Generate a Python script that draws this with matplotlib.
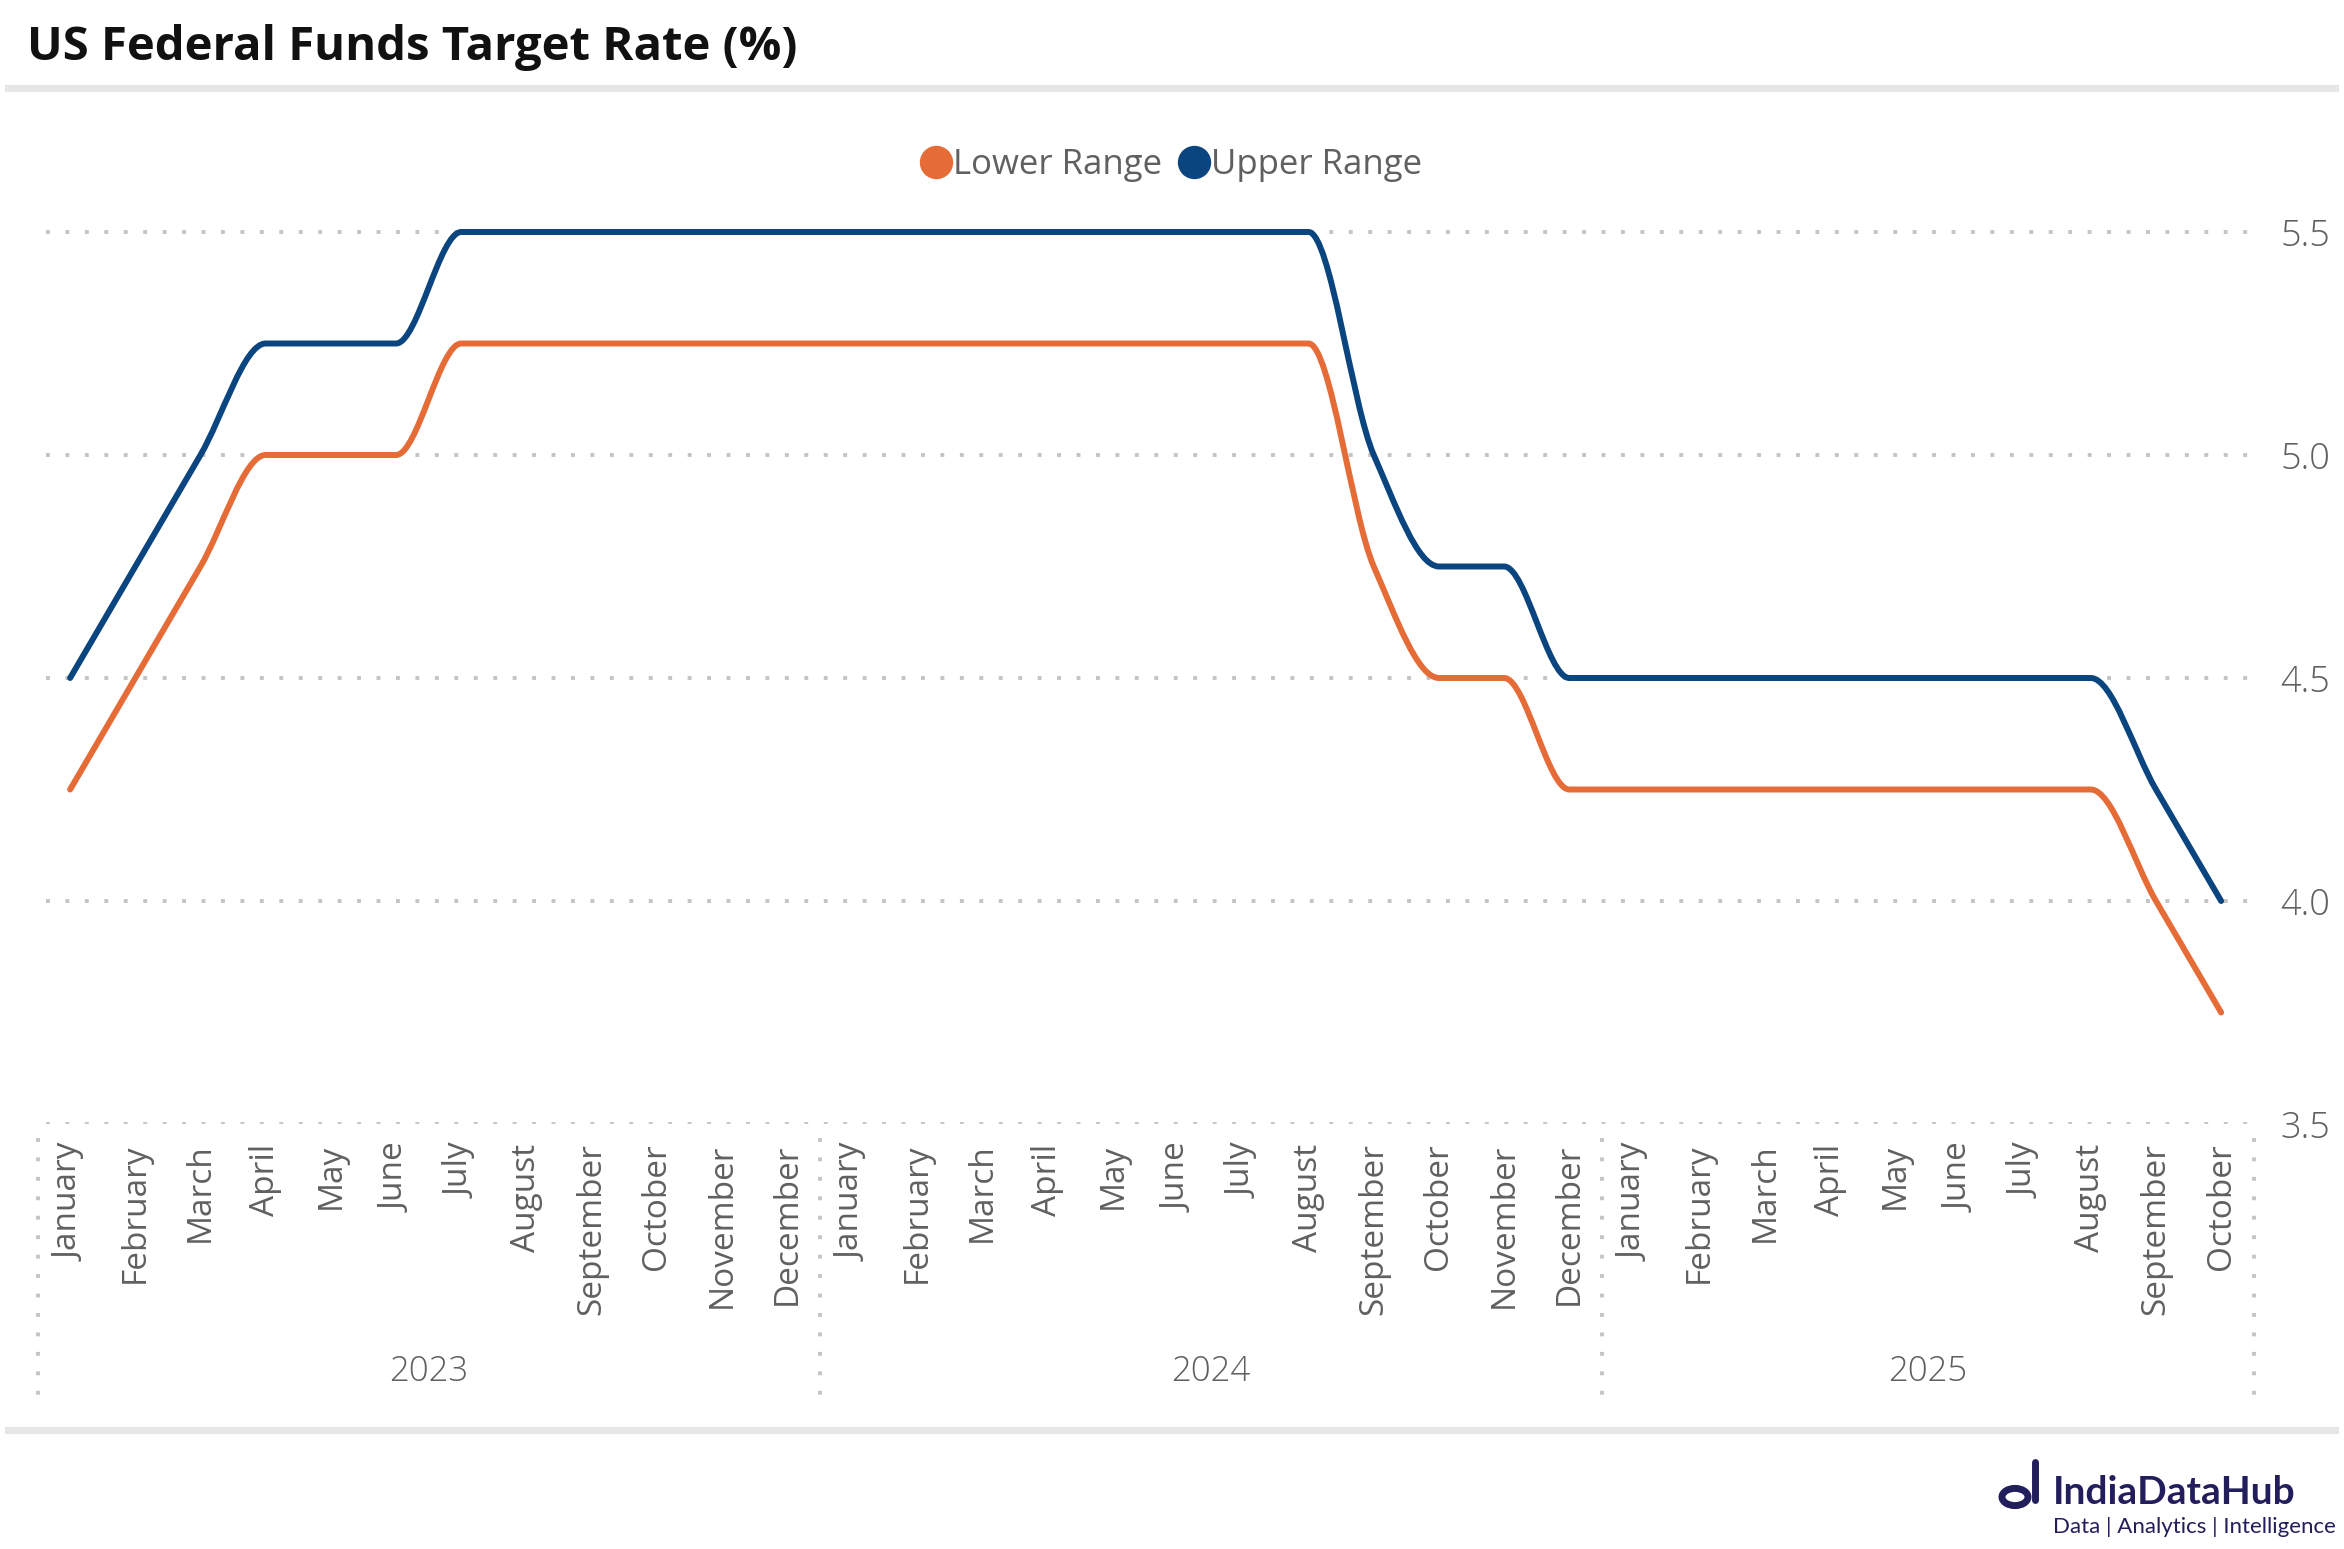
import numpy as np
import matplotlib
matplotlib.use("Agg")
import matplotlib.pyplot as plt
from matplotlib.path import Path
from matplotlib.patches import PathPatch, Circle
from matplotlib.lines import Line2D
import matplotlib.transforms as mtransforms

# Data: monthly fed funds target range, Jan 2023 - Oct 2025
years = ["2023", "2024", "2025"]
months_per_year = [12, 12, 10]
month_names = ["January", "February", "March", "April", "May", "June", "July",
               "August", "September", "October", "November", "December"]
lower_range = [4.25, 4.50, 4.75, 5.00, 5.00, 5.00, 5.25, 5.25, 5.25, 5.25, 5.25, 5.25,
               5.25, 5.25, 5.25, 5.25, 5.25, 5.25, 5.25, 5.25, 4.75, 4.50, 4.50, 4.25,
               4.25, 4.25, 4.25, 4.25, 4.25, 4.25, 4.25, 4.25, 4.00, 3.75]
upper_range = [4.50, 4.75, 5.00, 5.25, 5.25, 5.25, 5.50, 5.50, 5.50, 5.50, 5.50, 5.50,
               5.50, 5.50, 5.50, 5.50, 5.50, 5.50, 5.50, 5.50, 5.00, 4.75, 4.75, 4.50,
               4.50, 4.50, 4.50, 4.50, 4.50, 4.50, 4.50, 4.50, 4.25, 4.00]
y_ticks = [3.5, 4.0, 4.5, 5.0, 5.5]

ORANGE = "#E66C37"
NAVY = "#0B457F"
GRID = "#C4C4C4"
TXT = "#606060"
W, H = 2344, 1549


# Smooth line through the points (monotone cubic, drawn as bezier path)
def smooth_path(y):
    y = np.asarray(y, dtype=float)
    n = len(y)
    d = np.diff(y)
    m = np.zeros(n)
    m[0], m[-1] = d[0], d[-1]
    for k in range(1, n - 1):
        if d[k - 1] * d[k] > 0:
            m[k] = 2.0 / (1.0 / d[k - 1] + 1.0 / d[k])
    verts = [(0, y[0])]
    codes = [Path.MOVETO]
    for k in range(n - 1):
        verts += [(k + 1 / 3, y[k] + m[k] / 3),
                  (k + 2 / 3, y[k + 1] - m[k + 1] / 3),
                  (k + 1, y[k + 1])]
        codes += [Path.CURVE4] * 3
    return Path(verts, codes)


def px(x, y):
    # figure fraction from pixel coords (origin top-left)
    return x / W, 1 - y / H


fig = plt.figure(figsize=(W / 100, H / 100), dpi=100)
ax = fig.add_axes([46 / W, 1 - 1124 / H, (2257 - 46) / W, (1124 - 120.5) / H])

for vals, col in [(lower_range, ORANGE), (upper_range, NAVY)]:
    ax.add_patch(PathPatch(smooth_path(vals), facecolor="none", edgecolor=col,
                           lw=4.3, capstyle="round", joinstyle="round", zorder=3))

ax.set_xlim(-0.37, 33.55)
ax.set_ylim(3.5, 5.75)

# y axis on the right
ax.yaxis.tick_right()
ax.set_yticks(y_ticks)
ax.set_yticklabels([f"{v:.1f}" for v in y_ticks], fontsize=26, color=TXT,
                   family=["Open Sans", "DejaVu Sans"], fontweight="light")
ax.tick_params(axis="y", length=0, pad=17)
ax.yaxis.grid(True, color=GRID, lw=2.8, linestyle=(0, (1, 4)))
ax.set_axisbelow(True)

# month tick labels
labels = []
for n in months_per_year:
    labels += month_names[:n]
ax.set_xticks(range(len(labels)))
ax.set_xticklabels(labels, rotation=90, fontsize=24, color=TXT,
                   family=["Open Sans", "DejaVu Sans"])
ax.tick_params(axis="x", length=0, pad=14)

for s in ax.spines.values():
    s.set_visible(False)

# year groups underneath
trans = mtransforms.blended_transform_factory(ax.transData, ax.transAxes)
ax_h = 1124 - 120.5
start = -0.5
bounds = [start]
for yr, n in zip(years, months_per_year):
    end = start + n
    ax.text((start + end) / 2, -(1372 - 1124) / ax_h, yr, transform=trans,
            ha="center", va="center", fontsize=25, color=TXT,
            family=["Open Sans", "DejaVu Sans"], fontweight="light")
    bounds.append(end)
    start = end
for b in bounds:
    ax.plot([b, b], [-(1138 - 1124) / ax_h, -(1405 - 1124) / ax_h], transform=trans,
            color=GRID, lw=2.8, linestyle=(0, (1, 4)), clip_on=False)

# legend
handles = [Line2D([], [], marker="o", ls="none", color=ORANGE, markersize=23),
           Line2D([], [], marker="o", ls="none", color=NAVY, markersize=23)]
leg = fig.legend(handles, ["Lower Range", "Upper Range"], loc="center",
                 bbox_to_anchor=px(1172, 165), ncol=2, frameon=False,
                 handlelength=0.8, handletextpad=0.1, columnspacing=0.5,
                 prop={"family": ["Open Sans", "DejaVu Sans"], "size": 25})
for t in leg.get_texts():
    t.set_color(TXT)

# title and separator bars
fig.text(*px(27, 60), "US Federal Funds Target Rate (%)", fontsize=34,
         fontweight="bold", family=["Open Sans", "DejaVu Sans"], va="baseline",
         color="#111111")
for yy in [87.5, 1429.5]:
    fig.add_artist(Line2D([8 / W, 2335 / W], [1 - yy / H, 1 - yy / H],
                          color="#E6E6E6", lw=5.2))

# logo
fig.add_artist(Circle(px(2015, 1497), 13 / W, transform=fig.transFigure,
                      facecolor="none", edgecolor="#221E5C", lw=5))
fig.add_artist(Line2D([2035 / W, 2035 / W], [1 - 1462 / H, 1 - 1500 / H],
                      color="#221E5C", lw=5, solid_capstyle="round"))
fig.text(*px(2053, 1504), "IndiaDataHub", fontsize=28, fontweight="bold",
         color="#221E5C", family=["Lato", "DejaVu Sans"], va="baseline")
fig.text(*px(2053, 1533), "Data | Analytics | Intelligence", fontsize=16,
         color="#221E5C", family=["Lato", "DejaVu Sans"], va="baseline")

fig.savefig("out.png", dpi=100)
